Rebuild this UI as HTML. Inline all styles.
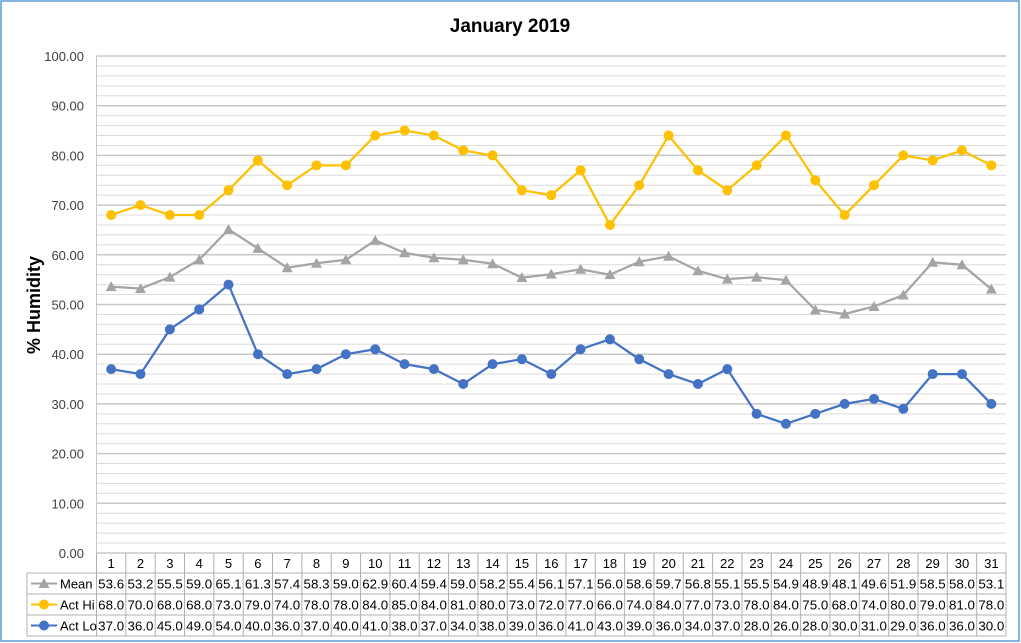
<!DOCTYPE html>
<html><head><meta charset="utf-8"><style>
html,body{margin:0;padding:0;background:#fff;}
svg{display:block;font-family:"Liberation Sans",Arial,sans-serif;}
</style></head><body>
<svg id="c" width="1021" height="643">
<rect x="1" y="1" width="1018" height="640" fill="#fff" stroke="#5b9bd5" stroke-width="1.5"/>
<text x="510" y="32" text-anchor="middle" font-size="19" font-weight="bold" fill="#000">January 2019</text>
<text transform="translate(40,305) rotate(-90)" text-anchor="middle" font-size="18" font-weight="bold" fill="#000">% Humidity</text>
<g id="grid"></g><g id="table"></g><g id="series"></g>
</svg>
<script>
const days=[1,2,3,4,5,6,7,8,9,10,11,12,13,14,15,16,17,18,19,20,21,22,23,24,25,26,27,28,29,30,31];
const meanVals=[53.6,53.2,55.5,59.0,65.1,61.3,57.4,58.3,59.0,62.9,60.4,59.4,59.0,58.2,55.4,56.1,57.1,56.0,58.6,59.7,56.8,55.1,55.5,54.9,48.9,48.1,49.6,51.9,58.5,58.0,53.1];
const hiVals=[68,70,68,68,73,79,74,78,78,84,85,84,81,80,73,72,77,66,74,84,77,73,78,84,75,68,74,80,79,81,78];
const loVals=[37,36,45,49,54,40,36,37,40,41,38,37,34,38,39,36,41,43,39,36,34,37,28,26,28,30,31,29,36,36,30];
const yTicks=[0,10,20,30,40,50,60,70,80,90,100];
const NS="http://www.w3.org/2000/svg";
const L=96.5,R=1006,T=56,B=553,cw=(R-L)/days.length;
const y=v=>B-(v/100)*(B-T);
const x=i=>L+cw*(i+0.5);
function el(tag,attrs,parent,txt){const e=document.createElementNS(NS,tag);for(const k in attrs)e.setAttribute(k,attrs[k]);if(txt!==undefined)e.textContent=txt;parent.appendChild(e);return e;}
const grid=document.getElementById('grid'),tbl=document.getElementById('table'),ser=document.getElementById('series');
for(let v=0;v<=100;v+=2){const g=el('line',{x1:L,x2:R,y1:y(v),y2:y(v),stroke:v%10===0?'#c8c8c8':'#dcdcdc','stroke-width':v%10===0?1.5:1},grid);
}
el('line',{x1:L,x2:L,y1:T,y2:B,stroke:'#c8c8c8'},grid);
yTicks.forEach(v=>{const t=el('text',{x:84,y:y(v)+5,'text-anchor':'end','font-size':13,fill:'#404040'},grid,v.toFixed(2));
});
const rows=[573,594,615,636];
rows.forEach(r=>el('line',{x1:27,x2:R,y1:r,y2:r,stroke:'#b0b0b0'},tbl));
el('line',{x1:27,x2:27,y1:573,y2:636,stroke:'#b0b0b0'},tbl);
for(let i=0;i<=days.length;i++){el('line',{x1:L+cw*i,x2:L+cw*i,y1:B,y2:636,stroke:'#b0b0b0'},tbl);}
days.forEach((d,i)=>{const t=el('text',{x:x(i),y:568,'text-anchor':'middle','font-size':13,fill:'#000'},tbl,d);
});
const series=[{n:'Mean',v:meanVals,c:'#a5a5a5',m:'tri'},{n:'Act Hi',v:hiVals,c:'#ffc000',m:'circ'},{n:'Act Lo',v:loVals,c:'#4472c4',m:'circ'}];
series.forEach((s,si)=>{
 const ry=(rows[si]+rows[si+1])/2;
 el('line',{x1:31,x2:57,y1:ry,y2:ry,stroke:s.c,'stroke-width':2},tbl);
 drawMarker(s,44,ry,tbl);
 const lab=el('text',{x:60,y:ry+5,'font-size':13,fill:'#000'},tbl,s.n);
 
 s.v.forEach((v,i)=>{const t=el('text',{x:x(i),y:ry+5,'text-anchor':'middle','font-size':12.5,'textLength':26,'lengthAdjust':'spacingAndGlyphs',fill:'#000'},tbl,v.toFixed(1));
 });
 const pts=s.v.map((v,i)=>x(i)+','+y(v)).join(' ');
 const pl=el('polyline',{points:pts,fill:'none',stroke:s.c,'stroke-width':2.25},ser);
 
 s.v.forEach((v,i)=>{const m=drawMarker(s,x(i),y(v),ser);});
});
function drawMarker(s,cx,cy,p){
 if(s.m==='tri')return el('polygon',{points:`${cx},${cy-5.5} ${cx-5.5},${cy+4.5} ${cx+5.5},${cy+4.5}`,fill:s.c},p);
 return el('circle',{cx:cx,cy:cy,r:5,fill:s.c},p);
}
</script>
</body></html>
